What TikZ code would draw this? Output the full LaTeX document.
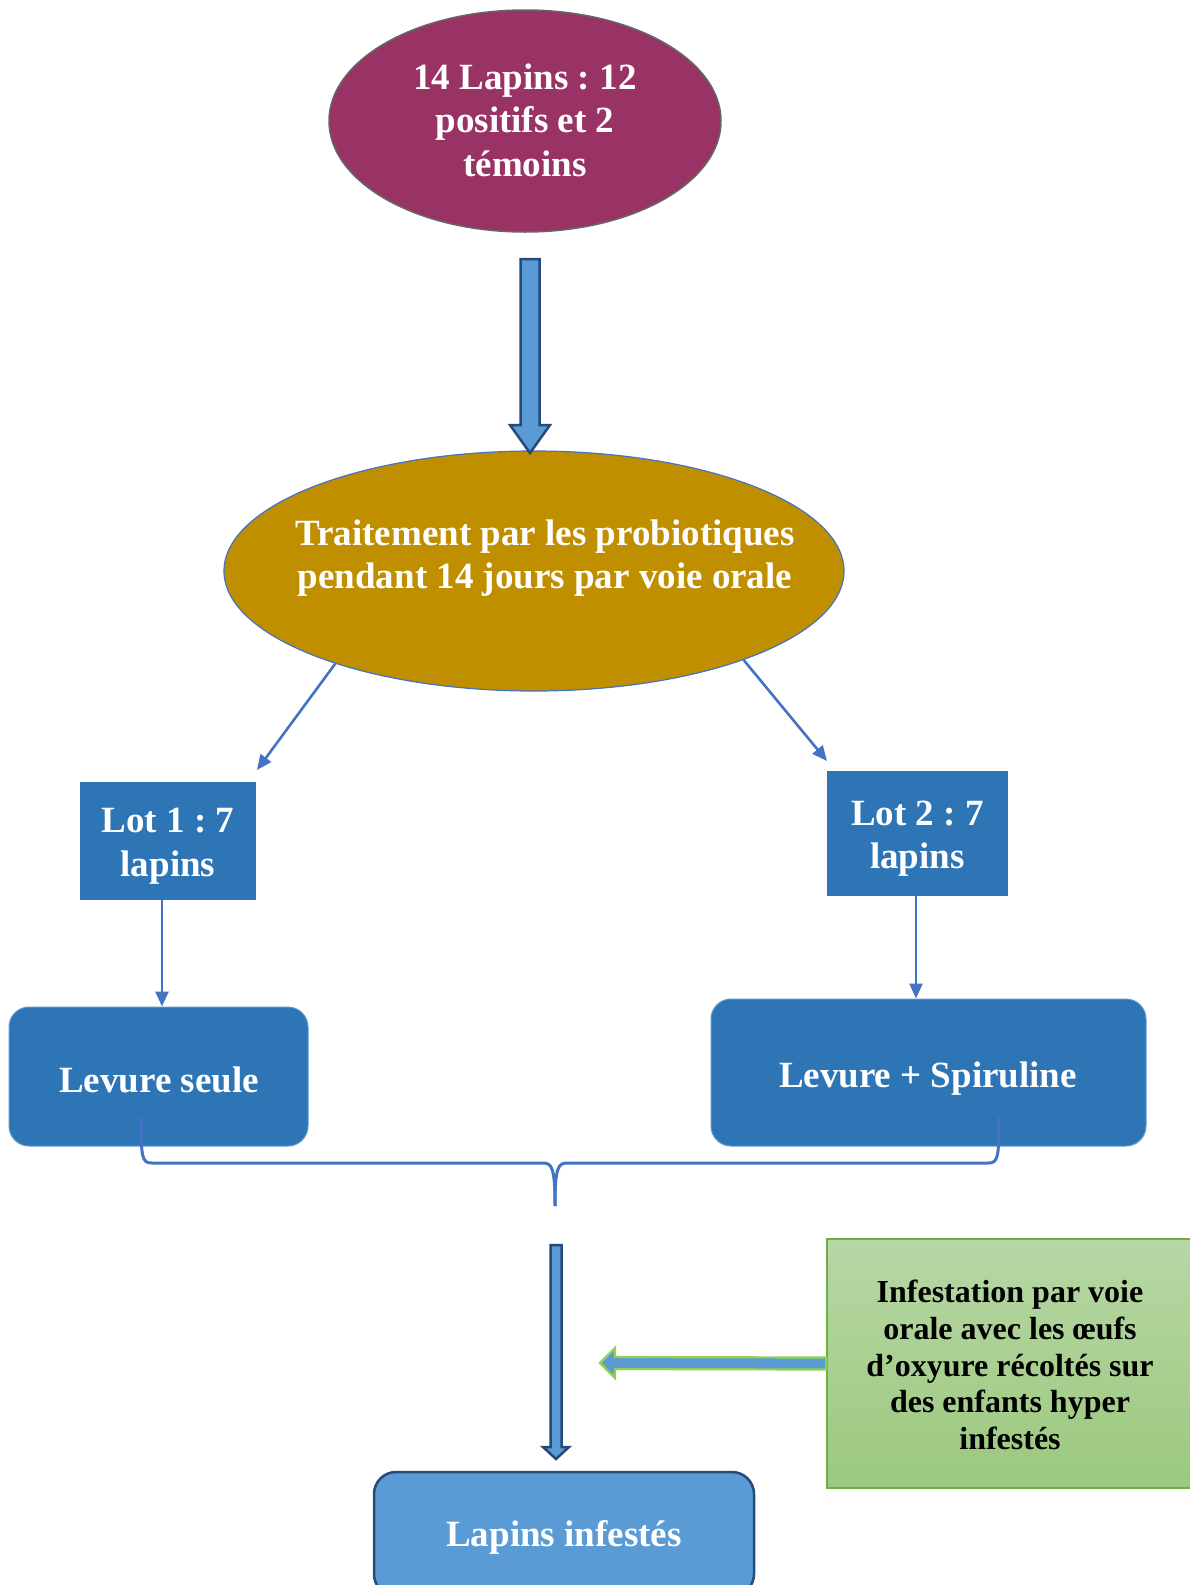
\documentclass[tikz,border=0pt]{standalone}
\usepackage{fontspec}
\setmainfont{Liberation Serif}
\usetikzlibrary{shapes.geometric,arrows.meta,calc}
\frenchspacing
\definecolor{plum}{RGB}{153,51,102}
\definecolor{gold}{RGB}{191,143,0}
\definecolor{midblue}{RGB}{46,117,182}
\definecolor{lightblue}{RGB}{91,155,213}
\definecolor{lineblue}{RGB}{68,114,196}
\definecolor{navy}{RGB}{37,75,120}
\definecolor{greentop}{RGB}{183,215,165}
\definecolor{greenbot}{RGB}{156,200,126}
\definecolor{greenedge}{RGB}{112,173,71}
\definecolor{limeedge}{RGB}{146,208,80}
\newcommand\vblockarrow[6]{%
  \draw[#1] ($(#2)+(-#4,0)$) -- ($(#3)+(-#4,-#6)$) -- ($(#3)+(-#5,-#6)$) -- (#3)
    -- ($(#3)+(#5,-#6)$) -- ($(#3)+(#4,-#6)$) -- ($(#2)+(#4,0)$) -- cycle;}
\newcommand\hblockarrow[6]{%
  \draw[#1] ($(#2)+(0,-#4)$) -- ($(#3)+(#6,-#4)$) -- ($(#3)+(#6,-#5)$) -- (#3)
    -- ($(#3)+(#6,#5)$) -- ($(#3)+(#6,#4)$) -- ($(#2)+(0,#4)$) -- cycle;}
\begin{document}
\begin{tikzpicture}[x=1pt,y=-1pt,
  bigtxt/.style={font=\fontsize{37}{43.5}\selectfont\bfseries, text=white, align=center, inner sep=0},
  smalltxt/.style={font=\fontsize{32}{36.8}\selectfont\bfseries, text=black, align=center, inner sep=0},
  lotbox/.style={rectangle, fill=midblue, inner sep=0},
  levbox/.style={rectangle, rounded corners=20, fill=midblue, draw=lightblue, line width=1, inner sep=0},
  arr/.style={draw=lineblue, line width=2.6, -{Triangle[length=15, width=13]}},
  bracestyle/.style={draw=lineblue, line width=3},
  bluearrow/.style={fill=lightblue, draw=navy, line width=2.5, line join=miter},
  greenarrow/.style={fill=lightblue, draw=limeedge, line width=2.2, line join=miter}]
\useasboundingbox (0,0) rectangle (1189,1585);
\fill[white] (0,0) rectangle (1189,1585);

% top ellipse
\node[ellipse, minimum width=392, minimum height=222, fill=plum, draw=black!60, line width=1.5, inner sep=0] (top) at (525,121) {};
\node[bigtxt] (toptxt) at (525,120) {14 Lapins : 12\\positifs et 2\\témoins};

% middle ellipse
\node[ellipse, minimum width=620, minimum height=240, fill=gold, draw=lineblue, line width=1.2, inner sep=0] (mid) at (534,571) {};
\node[bigtxt] (midtxt) at (545,558) {Traitement par les probiotiques\\pendant 14 jours par voie orale};

% top block arrow
\coordinate (a1s) at (530,259);
\coordinate (a1e) at (530,453);
\vblockarrow{bluearrow}{a1s}{a1e}{9.5}{20}{28}

% lots
\node[lotbox, minimum width=176, minimum height=118] (lot1) at (168,841) {};
\node[bigtxt] (lot1txt) at (168,846) {Lot 1 : 7\\lapins};
\node[lotbox, minimum width=181, minimum height=125] (lot2) at (917.5,833.5) {};
\node[bigtxt] (lot2txt) at (917.5,838.5) {Lot 2 : 7\\lapins};

\coordinate (t1) at (257,770);
\coordinate (t2) at (827,761);
\draw[arr] (mid.205) -- (t1);
\draw[arr] (mid.-23) -- (t2);

% levure boxes
\node[levbox, minimum width=299, minimum height=139] (lev1) at (158.5,1076.5) {};
\node[bigtxt] (lev1txt) at (159,1079.5) {Levure seule};
\node[levbox, minimum width=435, minimum height=147] (lev2) at (928.5,1072.5) {};
\node[bigtxt] (lev2txt) at (928,1079) {Levure + Spiruline};

\coordinate (x1) at (162,0);
\coordinate (x2) at (916,0);
\draw[arr] (lot1.south -| x1) -- (lev1.north -| x1);
\draw[arr] (lot2.south -| x2) -- (lev2.north -| x2);

% brace
\coordinate (bl) at (141,1117);
\coordinate (br) at (999,1117);
\coordinate (bm) at (555,1206);
\draw[bracestyle] (bl) .. controls (141,1158) and (142,1163) .. (152,1163) -- (543,1163)
  .. controls (552,1163) and (555,1168) .. (bm);
\draw[bracestyle] (br) .. controls (999,1158) and (998,1163) .. (988,1163) -- (567,1163)
  .. controls (558,1163) and (555,1168) .. (bm);

% second vertical block arrow
\coordinate (a2s) at (556,1245);
\coordinate (a2e) at (556,1459);
\vblockarrow{bluearrow}{a2s}{a2e}{5.5}{13}{12}

% green box
\node[rectangle, minimum width=365, minimum height=249, top color=greentop, bottom color=greenbot, draw=greenedge, line width=1.5, inner sep=0] (green) at (1009.5,1363.5) {};
\node[smalltxt] (greentxt) at (1010,1365) {Infestation par voie\\orale avec les œufs\\d’oxyure récoltés sur\\des enfants hyper\\infestés};

\coordinate (a3e) at (600,1363);
\hblockarrow{greenarrow}{green.west}{a3e}{6}{15}{15}

% bottom box
\node[rectangle, rounded corners=22, minimum width=380, minimum height=124, fill=lightblue, draw=navy, line width=2.5, inner sep=0] (bottom) at (564,1534) {};
\node[bigtxt] (bottomtxt) at (564,1537) {Lapins infestés};
\end{tikzpicture}
\end{document}
